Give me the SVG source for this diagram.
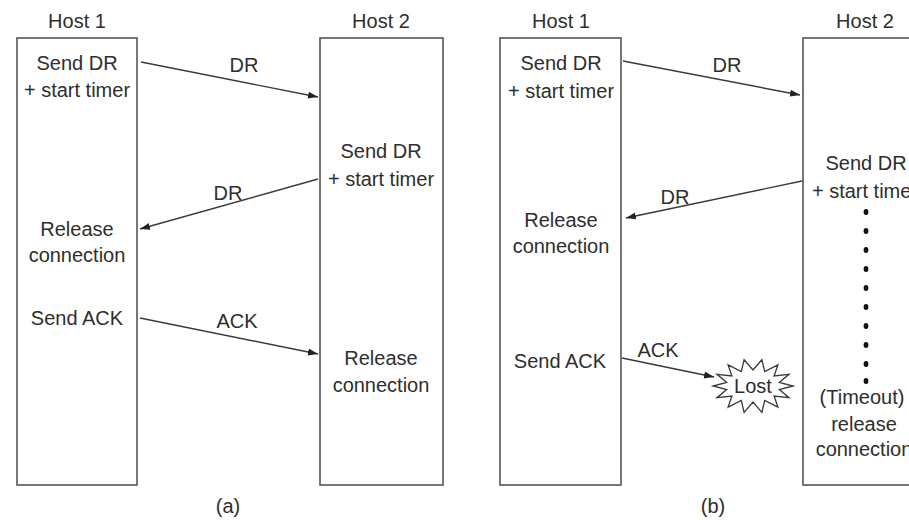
<svg xmlns="http://www.w3.org/2000/svg" width="909" height="520" viewBox="0 0 909 520">
<style>
.box{fill:#fff;stroke:#555;stroke-width:1.6}
.t{font-family:"Liberation Sans",Arial,Helvetica,sans-serif;font-size:20px;fill:#2e2e2e;text-anchor:middle}
.ln{stroke:#3a3a3a;stroke-width:1.4;fill:none}
.burst{fill:#fff;stroke:#3a3a3a;stroke-width:1.3;stroke-linejoin:miter}
.dot{fill:#111}
</style>
<defs>
<marker id="ah" viewBox="0 0 10 8" refX="10" refY="4" markerWidth="10" markerHeight="8" markerUnits="userSpaceOnUse" orient="auto">
<path d="M0,0.5 L10,4 L0,7.5 Z" fill="#222"/>
</marker>
</defs>
<rect width="909" height="520" fill="#fff"/>

<!-- Panel (a) -->
<g id="a-host1">
<text class="t" x="77" y="28">Host 1</text>
<rect class="box" x="17" y="38" width="120" height="447"/>
<text class="t" x="77" y="70">Send DR</text>
<text class="t" x="77" y="97">+ start timer</text>
<text class="t" x="77" y="236">Release</text>
<text class="t" x="77" y="262">connection</text>
<text class="t" x="77" y="325">Send ACK</text>
</g>
<g id="a-host2">
<text class="t" x="381" y="28">Host 2</text>
<rect class="box" x="320" y="38" width="123" height="447"/>
<text class="t" x="381" y="158">Send DR</text>
<text class="t" x="381" y="186">+ start timer</text>
<text class="t" x="381" y="365">Release</text>
<text class="t" x="381" y="392">connection</text>
</g>
<text id="a-label" class="t" x="228" y="513">(a)</text>

<!-- Panel (b) -->
<g id="b-host1">
<text class="t" x="561" y="28">Host 1</text>
<rect class="box" x="500" y="38" width="121" height="447"/>
<text class="t" x="561" y="70">Send DR</text>
<text class="t" x="561" y="98">+ start timer</text>
<text class="t" x="561" y="227">Release</text>
<text class="t" x="561" y="253">connection</text>
<text class="t" x="560" y="368">Send ACK</text>
</g>
<g id="b-host2">
<text class="t" x="865" y="28">Host 2</text>
<rect class="box" x="803" y="38" width="130" height="447"/>
<text class="t" x="866" y="170">Send DR</text>
<text class="t" x="865" y="198">+ start timer</text>
<g id="b-dots">
<ellipse class="dot" cx="866" cy="212" rx="2.4" ry="3"/>
<ellipse class="dot" cx="866" cy="231" rx="2.4" ry="3"/>
<ellipse class="dot" cx="866" cy="250" rx="2.4" ry="3"/>
<ellipse class="dot" cx="866" cy="269" rx="2.4" ry="3"/>
<ellipse class="dot" cx="866" cy="288" rx="2.4" ry="3"/>
<ellipse class="dot" cx="866" cy="307" rx="2.4" ry="3"/>
<ellipse class="dot" cx="866" cy="326" rx="2.4" ry="3"/>
<ellipse class="dot" cx="866" cy="345" rx="2.4" ry="3"/>
<ellipse class="dot" cx="866" cy="364" rx="2.4" ry="3"/>
<ellipse class="dot" cx="866" cy="381" rx="2.4" ry="3"/>
</g>
<text class="t" x="862" y="404">(Timeout)</text>
<text class="t" x="864" y="431">release</text>
<text class="t" x="864" y="456">connection</text>
</g>
<g id="b-lost">
<polygon class="burst" points="793,386 779.3,389.6 789,397.7 774.1,396 777.9,407.1 764.7,400.4 761.9,412.3 753,402 744.1,412.3 741.3,400.4 728.1,407.1 731.9,396 717,397.7 726.7,389.6 713,386 726.7,382.4 717,374.3 731.9,376 728.1,364.9 741.3,371.6 744.1,359.7 753,370 761.9,359.7 764.7,371.6 777.9,364.9 774.1,376 789,374.3 779.3,382.4"/>
<text class="t" x="753" y="393">Lost</text>
</g>
<text id="b-label" class="t" x="713" y="513">(b)</text>

<!-- Connectors -->
<g id="connectors">
<line class="ln" x1="141" y1="62" x2="318" y2="97" marker-end="url(#ah)"/>
<text class="t" x="244" y="72">DR</text>
<line class="ln" x1="318" y1="179" x2="140" y2="229" marker-end="url(#ah)"/>
<text class="t" x="228" y="200">DR</text>
<line class="ln" x1="140" y1="318" x2="318" y2="354" marker-end="url(#ah)"/>
<text class="t" x="237" y="328">ACK</text>

<line class="ln" x1="623" y1="61" x2="800" y2="95" marker-end="url(#ah)"/>
<text class="t" x="727" y="72">DR</text>
<line class="ln" x1="802" y1="181" x2="626" y2="218" marker-end="url(#ah)"/>
<text class="t" x="675" y="204">DR</text>
<line class="ln" x1="622" y1="358" x2="714" y2="377" marker-end="url(#ah)"/>
<text class="t" x="658" y="357">ACK</text>
</g>
</svg>
